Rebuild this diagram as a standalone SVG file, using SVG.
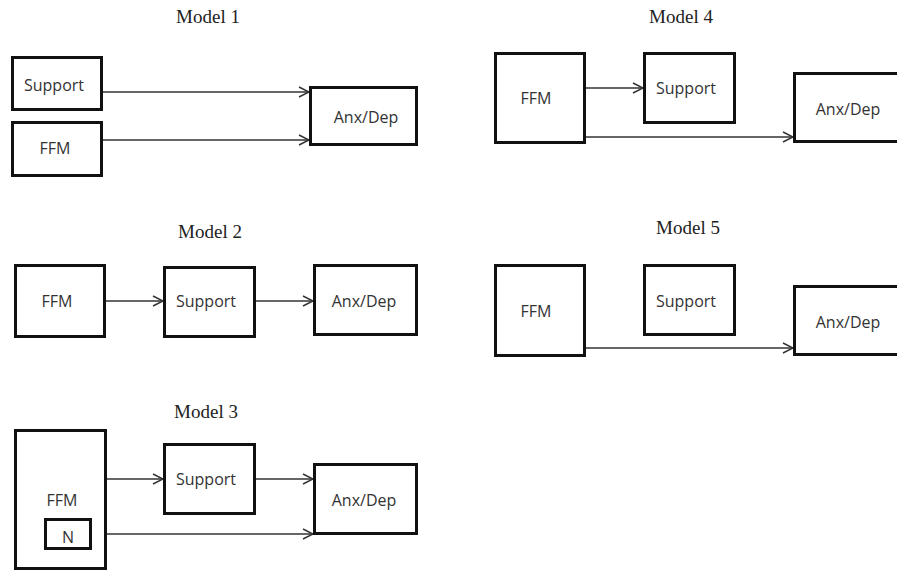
<svg xmlns="http://www.w3.org/2000/svg" width="897" height="571" viewBox="0 0 897 571">
<defs>
<marker id="arr" markerUnits="userSpaceOnUse" markerWidth="12" markerHeight="12" refX="10" refY="5" orient="auto" overflow="visible">
<path d="M0,0 L10,5 L0,10" fill="none" stroke="#333" stroke-width="1.4"/>
</marker>
<style>
.box{fill:#fff;stroke:#111;stroke-width:3}
.lbl{font-family:"Open Sans","Liberation Sans",sans-serif;font-size:16px;fill:#333;text-anchor:middle}
.ttl{font-family:"Liberation Serif","Times New Roman",serif;font-size:19px;fill:#222;text-anchor:middle}
.con{stroke:#333;stroke-width:1.4;fill:none;marker-end:url(#arr)}
</style>
</defs>
<rect width="897" height="571" fill="#fff"/>
<g id="titles">
<text class="ttl" x="208" y="23">Model 1</text>
<text class="ttl" x="681" y="23">Model 4</text>
<text class="ttl" x="210" y="238">Model 2</text>
<text class="ttl" x="688" y="234">Model 5</text>
<text class="ttl" x="206" y="418">Model 3</text>
</g>
<g id="connectors">
<line class="con" x1="103" y1="92" x2="309" y2="92"/>
<line class="con" x1="103" y1="140" x2="309" y2="140"/>
<line class="con" x1="586" y1="88" x2="643" y2="88"/>
<line class="con" x1="586" y1="137" x2="793" y2="137"/>
<line class="con" x1="106" y1="301" x2="163" y2="301"/>
<line class="con" x1="256" y1="301" x2="313" y2="301"/>
<line class="con" x1="586" y1="348" x2="793" y2="348"/>
<line class="con" x1="107" y1="479" x2="163" y2="479"/>
<line class="con" x1="256" y1="479" x2="313" y2="479"/>
<line class="con" x1="92" y1="534" x2="313" y2="534"/>
</g>
<g id="m1-support"><rect class="box" x="12.5" y="57.5" width="89" height="52"/><text class="lbl" x="54" y="91">Support</text></g>
<g id="m1-ffm"><rect class="box" x="12.5" y="122.5" width="89" height="53"/><text class="lbl" x="55" y="154">FFM</text></g>
<g id="m1-anx"><rect class="box" x="310.5" y="87.5" width="106" height="57"/><text class="lbl" x="366" y="123">Anx/Dep</text></g>
<g id="m4-ffm"><rect class="box" x="495.5" y="53.5" width="89" height="89"/><text class="lbl" x="536" y="104">FFM</text></g>
<g id="m4-support"><rect class="box" x="644.5" y="53.5" width="90" height="69"/><text class="lbl" x="686" y="94">Support</text></g>
<g id="m4-anx"><rect class="box" x="794.5" y="73.5" width="120" height="68"/><text class="lbl" x="848" y="115">Anx/Dep</text></g>
<g id="m2-ffm"><rect class="box" x="15.5" y="265.5" width="89" height="71"/><text class="lbl" x="57" y="307">FFM</text></g>
<g id="m2-support"><rect class="box" x="164.5" y="267.5" width="90" height="69"/><text class="lbl" x="206" y="307">Support</text></g>
<g id="m2-anx"><rect class="box" x="314.5" y="265.5" width="102" height="69"/><text class="lbl" x="364" y="307">Anx/Dep</text></g>
<g id="m5-ffm"><rect class="box" x="495.5" y="265.5" width="89" height="90"/><text class="lbl" x="536" y="317">FFM</text></g>
<g id="m5-support"><rect class="box" x="644.5" y="265.5" width="90" height="69"/><text class="lbl" x="686" y="307">Support</text></g>
<g id="m5-anx"><rect class="box" x="794.5" y="286.5" width="120" height="68"/><text class="lbl" x="848" y="328">Anx/Dep</text></g>
<g id="m3-ffm"><rect class="box" x="15.5" y="430.5" width="90" height="138"/><text class="lbl" x="62" y="506">FFM</text></g>
<g id="m3-n"><rect class="box" x="45.5" y="519.5" width="45" height="29"/><text class="lbl" x="68" y="543">N</text></g>
<g id="m3-support"><rect class="box" x="164.5" y="444.5" width="90" height="69"/><text class="lbl" x="206" y="485">Support</text></g>
<g id="m3-anx"><rect class="box" x="314.5" y="464.5" width="102" height="69"/><text class="lbl" x="364" y="506">Anx/Dep</text></g>
</svg>
